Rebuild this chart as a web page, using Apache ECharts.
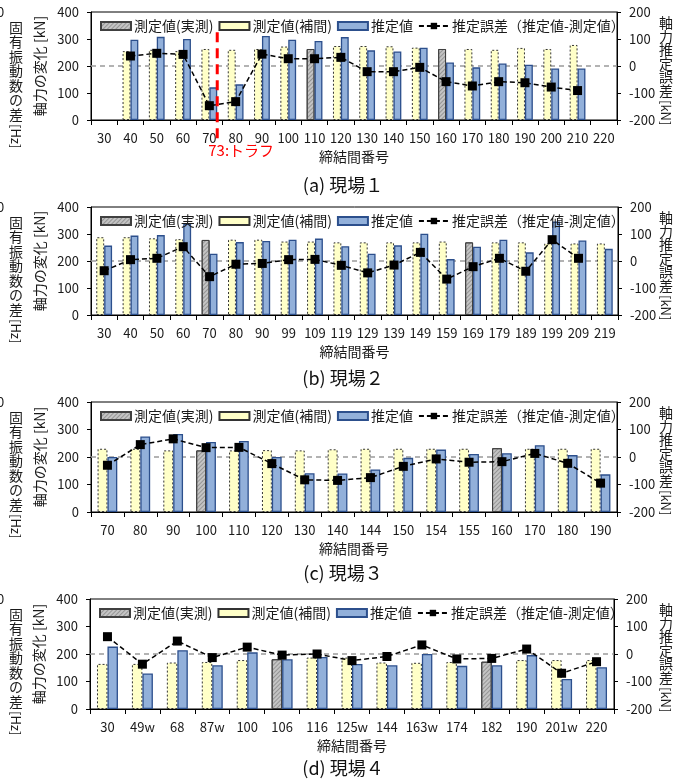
<!DOCTYPE html>
<html>
<head>
<meta charset="utf-8">
<script src="https://cdn.jsdelivr.net/npm/echarts@6/dist/echarts.min.js"></script>
<style>
  html, body { margin: 0; padding: 0; background: #fff; }
  #chart { width: 674px; height: 781px; }
</style>
</head>
<body>
<div id="chart"></div>
<script>
// ---- 現場1 ----
const catsA   = ['30','40','50','60','70','80','90','100','110','120','130','140','150','160','170','180','190','200','210','220'];
const realA   = [null,null,null,null,null,null,null,null,263,null,null,null,null,263,null,null,null,null,null,null];
const interpA = [null,255,260,255,263,260,263,272,null,274,274,273,268,null,263,260,267,263,278,null];
const estA    = [null,297,308,300,121,132,311,297,293,307,258,254,268,213,195,209,205,191,191,null];
const errA    = [null,37,47,43,-147,-132,44,27,27,32,-21,-21,-5,-58,-74,-58,-62,-78,-91,null];
const troughA = 73;   // トラフ位置 (締結間番号)

// ---- 現場2 ----
const catsB   = ['30','40','50','60','70','80','90','99','109','119','129','139','149','159','169','179','189','199','209','219'];
const realB   = [null,null,null,null,278,null,null,null,null,null,null,null,null,null,269,null,null,null,null,null];
const interpB = [288,288,284,281,null,279,279,272,272,269,269,269,269,272,null,269,269,265,265,265];
const estB    = [257,294,296,338,227,270,274,279,283,255,227,258,301,207,253,279,232,346,276,245];
const errB    = [-36,5,10,53,-58,-12,-9,5,6,-16,-44,-15,32,-67,-21,10,-38,79,10,null];

// ---- 現場3 ----
const catsC   = ['70','80','90','100','110','120','130','140','144','150','154','155','160','170','180','190'];
const realC   = [null,null,null,224,null,null,null,null,null,null,null,null,232,null,null,null];
const interpC = [230,230,224,null,224,225,224,228,230,230,230,230,null,230,230,230];
const estC    = [200,275,284,255,258,200,141,140,155,197,227,211,214,243,207,137];
const errC    = [-30,45,66,34,35,-24,-83,-85,-75,-34,-7,-19,-17,13,-23,-95];

// ---- 現場4 ----
const catsD   = ['30','49w','68','87w','100','106','116','125w','144','163w','174','182','190','201w','220'];
const realD   = [null,null,null,null,null,181,null,null,null,null,null,172,null,null,null];
const interpD = [164,164,169,171,178,null,187,187,169,168,171,null,178,178,178];
const estD    = [227,129,214,159,206,181,189,164,159,200,157,159,196,109,152];
const errD    = [63,-37,47,-13,25,-4,0,-24,-9,33,-18,-16,18,-70,-28];

const captions = ['(a) 現場１', '(b) 現場２', '(c) 現場３', '(d) 現場４'];

const NAME_REAL = '測定値(実測)';
const NAME_INTERP = '測定値(補間)';
const NAME_EST = '推定値';
const NAME_ERR = '推定誤差（推定値-測定値）';

const panels = [
  { cats: catsA, real: realA, interp: interpA, est: estA, err: errA },
  { cats: catsB, real: realB, interp: interpB, est: estB, err: errB },
  { cats: catsC, real: realC, interp: interpC, est: estC, err: errC },
  { cats: catsD, real: realD, interp: interpD, est: estD, err: errD }
];

// plot-area placement of each panel
const layout = [
  { left: 91, right: 57, top: 12,  height: 108, captionY: 185 },
  { left: 91, right: 56, top: 207, height: 108, captionY: 378 },
  { left: 91, right: 57, top: 402, height: 110, captionY: 573 },
  { left: 90, right: 60, top: 599, height: 110, captionY: 768 }
];

const FONT = "'Noto Sans CJK JP', 'Noto Sans', sans-serif";
const TXT = '#1a1a1a';

const chart = echarts.init(document.getElementById('chart'));

const grid = [], xAxis = [], yAxis = [], series = [], legend = [];

panels.forEach((p, i) => {
  const L = layout[i];
  grid.push({ left: L.left, right: L.right, top: L.top, height: L.height,
              show: true, borderColor: '#000', borderWidth: 1, backgroundColor: 'transparent' });
  xAxis.push({
    type: 'category', gridIndex: i, data: p.cats, boundaryGap: true,
    axisLine: { lineStyle: { color: '#000', width: 1 } },
    axisTick: { show: true, length: 5, lineStyle: { color: '#000' } },
    axisLabel: { interval: 0, fontSize: 13, color: TXT, fontFamily: FONT, margin: 12 },
    name: '締結間番号', nameLocation: 'middle', nameGap: 30,
    nameTextStyle: { fontSize: 14, color: TXT, fontFamily: FONT }
  });
  yAxis.push({
    type: 'value', gridIndex: i, min: 0, max: 400, interval: 100, position: 'left',
    axisLine: { show: true, lineStyle: { color: '#000' } },
    axisTick: { show: true, length: 4, lineStyle: { color: '#000' } },
    splitLine: { show: false },
    axisLabel: { fontSize: 13, color: TXT, fontFamily: FONT, margin: 12 },
    name: '軸力の変化 [kN]', nameLocation: 'middle', nameRotate: 90, nameGap: 41,
    nameTextStyle: { fontSize: 14, color: TXT, fontFamily: FONT }
  });
  yAxis.push({
    type: 'value', gridIndex: i, min: -200, max: 200, interval: 100, position: 'right',
    axisLine: { show: true, lineStyle: { color: '#000' } },
    axisTick: { show: true, length: 4, lineStyle: { color: '#000' } },
    splitLine: { show: false },
    axisLabel: { fontSize: 13, color: TXT, fontFamily: FONT, margin: 12 }
  });

  const stackId = 'meas' + i;
  series.push({
    name: NAME_REAL, type: 'bar', xAxisIndex: i, yAxisIndex: 2 * i, stack: stackId,
    data: p.real, barGap: '0%', barCategoryGap: '40%',
    itemStyle: {
      color: '#C4C4C4', borderColor: '#404040', borderWidth: 1,
      decal: { symbol: 'rect', symbolSize: 1, color: 'rgba(110,110,110,0.55)',
               dashArrayX: [1, 0], dashArrayY: [1, 2], rotation: -Math.PI / 4 }
    }
  });
  series.push({
    name: NAME_INTERP, type: 'bar', xAxisIndex: i, yAxisIndex: 2 * i, stack: stackId,
    data: p.interp, barGap: '0%', barCategoryGap: '40%',
    itemStyle: { color: '#FFFFC8', borderColor: '#333', borderWidth: 1, borderType: [2, 2] }
  });
  series.push({
    name: NAME_EST, type: 'bar', xAxisIndex: i, yAxisIndex: 2 * i,
    data: p.est, barGap: '0%', barCategoryGap: '40%',
    itemStyle: { color: '#92B0DA', borderColor: '#2C4F8C', borderWidth: 1.3 }
  });
  series.push({
    name: NAME_ERR, type: 'line', xAxisIndex: i, yAxisIndex: 2 * i + 1,
    data: p.err, connectNulls: false, z: 5,
    symbol: 'rect', symbolSize: 9,
    itemStyle: { color: '#000' },
    lineStyle: { color: '#000', width: 1.5, type: [5, 3] },
    markLine: {
      silent: true, symbol: 'none', label: { show: false }, z: 1,
      lineStyle: { color: '#9A9A9A', width: 1.5, type: [5, 4] },
      data: [{ yAxis: 0 }]
    }
  });

  legend.push({
    left: L.left + 4, top: L.top + 2, orient: 'horizontal',
    itemWidth: 30, itemHeight: 8, itemGap: 5,
    textStyle: { fontSize: 14, color: TXT, fontFamily: FONT, padding: [0, 0, 0, -2] },
    data: [
      { name: NAME_REAL, icon: 'rect' },
      { name: NAME_INTERP, icon: 'rect' },
      { name: NAME_EST, icon: 'rect' },
      { name: NAME_ERR }
    ],
    selectedMode: false
  });
});

chart.setOption({
  animation: false,
  textStyle: { fontFamily: FONT },
  grid, xAxis, yAxis, series, legend
});

// ---- annotations: vertical titles, captions, trough marker ----
function vertical(str) { return str.split('').join('\n'); }

const graphic = [];
layout.forEach((L, i) => {
  // clipped tick remnant at the left edge
  graphic.push({ type: 'text', x: -3, y: L.top, style: {
    text: '0', font: '13px ' + FONT, fill: TXT, verticalAlign: 'middle' } });
  // left outer title (縦書き)
  graphic.push({ type: 'text', x: 16, y: L.top + 8, style: {
    text: vertical('固有振動数の差'), font: '14px ' + FONT, fill: TXT,
    align: 'center', verticalAlign: 'top', lineHeight: 14.5 } });
  graphic.push({ type: 'text', x: 16, y: L.top + 112, rotation: -Math.PI / 2, style: {
    text: '[Hz]', font: '13px ' + FONT, fill: TXT, align: 'left', verticalAlign: 'middle' } });
  // right title (縦書き)
  graphic.push({ type: 'text', x: 666, y: L.top + 4, style: {
    text: vertical('軸力推定誤差'), font: '14px ' + FONT, fill: TXT,
    align: 'center', verticalAlign: 'top', lineHeight: 13.5 } });
  graphic.push({ type: 'text', x: 666, y: L.top + 88, rotation: -Math.PI / 2, style: {
    text: '[kN]', font: '13px ' + FONT, fill: TXT, align: 'left', verticalAlign: 'middle' } });
  // caption
  graphic.push({ type: 'text', x: 343, y: L.captionY, style: {
    text: captions[i], font: '18px ' + FONT, fill: '#111', align: 'center', verticalAlign: 'middle' } });
});

// trough position in panel (a): between categories 70 and 80
const i70 = catsA.indexOf('70'), i80 = catsA.indexOf('80');
const x70 = chart.convertToPixel({ xAxisIndex: 0 }, i70);
const x80 = chart.convertToPixel({ xAxisIndex: 0 }, i80);
const xT = x70 + (x80 - x70) * (troughA - 70) / 10;
const yTop = chart.convertToPixel({ yAxisIndex: 0 }, 325);
const yBase = chart.convertToPixel({ yAxisIndex: 0 }, 0);
graphic.push({ type: 'line', z: 10, shape: { x1: xT, y1: yTop, x2: xT, y2: yBase + 22 },
  style: { stroke: '#FF0000', lineWidth: 3, lineDash: [10, 6] } });
graphic.push({ type: 'text', z: 10, x: xT - 9, y: yBase + 30, style: {
  text: troughA + ':トラフ', font: '15px ' + FONT, fill: '#FF0000', align: 'left', verticalAlign: 'middle' } });

chart.setOption({ graphic });
</script>
</body>
</html>
